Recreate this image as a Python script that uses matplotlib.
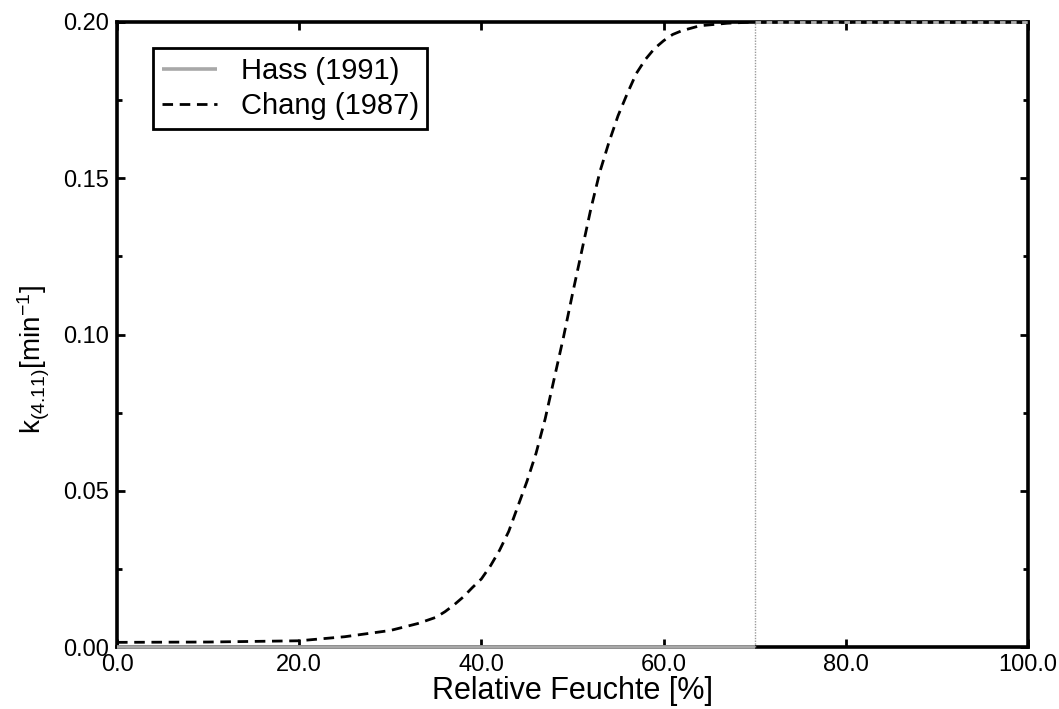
import matplotlib
matplotlib.use("Agg")
import matplotlib.pyplot as plt
from matplotlib.ticker import MultipleLocator, FormatStrFormatter

plt.rcParams['font.family'] = ['Liberation Sans', 'DejaVu Sans']
plt.rcParams['mathtext.fontset'] = 'custom'
plt.rcParams['mathtext.rm'] = 'Liberation Sans'
plt.rcParams['mathtext.it'] = 'Liberation Sans'
plt.rcParams['mathtext.bf'] = 'Liberation Sans:bold'
plt.rcParams['axes.unicode_minus'] = False

# Data
hass_x = [0.0, 70.0, 70.0, 100.0]
hass_y = [0.0, 0.0, 0.2, 0.2]

chang_x = [0, 10, 20, 25, 30, 33, 35, 36, 37, 38, 39, 40, 41, 42, 43, 44, 45,
           46, 47, 48, 49, 50, 51, 52, 53, 54, 55, 56, 57, 58, 59, 60, 61, 62,
           64, 67, 70, 80, 90, 100]
chang_y = [0.0015, 0.0016, 0.0020, 0.0033, 0.0053, 0.0075, 0.0095, 0.0113,
           0.0135, 0.016, 0.019, 0.0218, 0.026, 0.031, 0.037, 0.045, 0.053,
           0.062, 0.073, 0.086, 0.099, 0.113, 0.1265, 0.140, 0.152, 0.1615,
           0.170, 0.177, 0.1835, 0.188, 0.1915, 0.194, 0.196, 0.1972, 0.1988,
           0.1996, 0.2, 0.2, 0.2, 0.2]

fig = plt.figure(figsize=(10.59, 7.09), dpi=100)
ax = fig.add_axes([0.1105, 0.0874, 0.8602, 0.8816])

# Hass step: horizontal parts grey, jump dotted
ax.plot(hass_x[:2], hass_y[:2], color='#a8a8a8', lw=2.6, clip_on=False, zorder=6,
        label='Hass (1991)', solid_capstyle='butt')
ax.plot(hass_x[1:3], hass_y[1:3], color='#9a9a9a', lw=1.0, ls=(0, (1, 1)),
        clip_on=False, zorder=6)
ax.plot(hass_x[2:], hass_y[2:], color='#b0b0b0', lw=2.0, ls=(0, (2, 2)),
        clip_on=False, zorder=6)

ax.plot(chang_x, chang_y, color='black', lw=2.0, dashes=(3.8, 2.4),
        label='Chang (1987)', zorder=4)

ax.set_xlim(0, 100)
ax.set_ylim(0, 0.2)
ax.xaxis.set_major_locator(MultipleLocator(20))
ax.yaxis.set_major_locator(MultipleLocator(0.05))
ax.yaxis.set_minor_locator(MultipleLocator(0.025))
ax.xaxis.set_major_formatter(FormatStrFormatter('%.1f'))
ax.yaxis.set_major_formatter(FormatStrFormatter('%.2f'))

ax.tick_params(which='both', direction='in', top=True, right=True,
               labelsize=17, width=2.0, color='black')
ax.tick_params(which='major', length=6)
ax.tick_params(which='minor', length=3.5)
ax.tick_params(axis='x', which='major', pad=5)
ax.tick_params(axis='y', which='major', pad=6)

for sp in ax.spines.values():
    sp.set_linewidth(2.6)

ax.set_xlabel('Relative Feuchte [%]', fontsize=22, labelpad=0)
ax.set_ylabel(r'k$_{(4.11)}$[min$^{-1}$]', fontsize=20)
ax.yaxis.set_label_coords(-0.071, 0.46)

leg = ax.legend(loc='upper left', bbox_to_anchor=(0.0395, 0.958), fontsize=21,
                frameon=True, fancybox=False, framealpha=1, edgecolor='black',
                handlelength=1.9, handletextpad=0.8, borderpad=0.3,
                labelspacing=0.25, borderaxespad=0)
leg.get_frame().set_linewidth(2.0)

fig.savefig('out.png', dpi=100)
